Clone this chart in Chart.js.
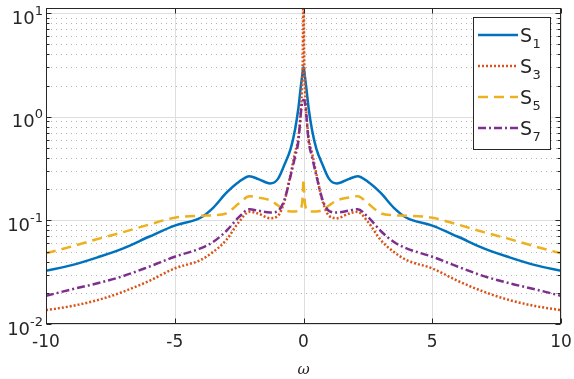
<!DOCTYPE html>
<html><head><meta charset="utf-8">
<script src="https://cdn.jsdelivr.net/npm/chart.js@4/dist/chart.umd.min.js"></script>
<style>html,body{margin:0;padding:0;background:#fff;overflow:hidden}#wrap{width:574px;height:379px;position:relative}</style>
</head><body><div id="wrap"><canvas id="c" width="574" height="379"></canvas></div>
<script>
// ---- data ----
const omega = [-10,-9,-8,-7,-6,-5,-4,-3.5,-3,-2.5,-2.1,-1.75,-1.3,-1,-0.75,-0.5,-0.33,-0.2,-0.1,-0.05,-0.02,0,0.02,0.05,0.1,0.2,0.33,0.5,0.75,1,1.3,1.75,2.1,2.5,3,3.5,4,5,6,7,8,9,10];
const S1 = [0.0327,0.037,0.044,0.0537,0.0695,0.089,0.106,0.133,0.184,0.236,0.267,0.25,0.227,0.25,0.34,0.49,0.75,1.2,2.0,2.5,2.85,3.0,2.85,2.5,2.0,1.2,0.75,0.49,0.34,0.25,0.227,0.25,0.267,0.236,0.184,0.133,0.106,0.089,0.0695,0.0537,0.044,0.037,0.0327];
const S3 = [0.0136,0.0149,0.017,0.0205,0.026,0.0344,0.0414,0.0498,0.0646,0.097,0.121,0.116,0.105,0.11,0.15,0.28,0.45,0.62,1.2,2.2,5.5,40,5.5,2.2,1.2,0.62,0.45,0.28,0.15,0.11,0.105,0.116,0.121,0.097,0.0646,0.0498,0.0414,0.0344,0.026,0.0205,0.017,0.0149,0.0136];
const S5 = [0.048,0.056,0.066,0.077,0.091,0.106,0.111,0.112,0.117,0.146,0.171,0.166,0.156,0.14,0.126,0.122,0.122,0.123,0.13,0.15,0.2,0.25,0.2,0.15,0.13,0.123,0.122,0.122,0.126,0.14,0.156,0.166,0.171,0.146,0.117,0.112,0.111,0.106,0.091,0.077,0.066,0.056,0.048];
const S7 = [0.0187,0.0216,0.0247,0.029,0.0357,0.0446,0.0537,0.0622,0.079,0.108,0.128,0.124,0.119,0.123,0.155,0.27,0.41,0.58,1.1,1.38,1.44,1.45,1.44,1.38,1.1,0.58,0.41,0.27,0.155,0.123,0.119,0.124,0.128,0.108,0.079,0.0622,0.0537,0.0446,0.0357,0.029,0.0247,0.0216,0.0187];
const seriesLabels = ['S_1','S_3','S_5','S_7'];
const xTickValues = [-10,-5,0,5,10];
const yDecades = [0.01,0.1,1,10];
const yExponents = ['-2','-1','0','1'];
const xTitle = 'ω';

// ---- styles ----
const INK = '#262626';
const FONT = 'DejaVu Sans';
const styles = [
  {color:'#0072BD', dash:[]},
  {color:'#D95319', dash:[2,2]},
  {color:'#EDB120', dash:[10,6]},
  {color:'#7E2F8E', dash:[8,3,2,3]}
];
const seriesData = [S1,S3,S5,S7];
const datasets = seriesData.map((arr,k)=>({
  label: seriesLabels[k],
  data: omega.map((x,i)=>({x:x, y:arr[i]})),
  borderColor: styles[k].color,
  backgroundColor: styles[k].color,
  borderWidth: 2.5,
  borderDash: styles[k].dash,
  borderCapStyle: 'butt',
  pointRadius: 0,
  fill: false,
  cubicInterpolationMode: 'monotone',
  order: 3-k
}));

const matlabAxes = {
  id: 'matlabAxes',
  beforeDatasetsDraw(chart){
    const ctx = chart.ctx, a = chart.chartArea;
    const xs = chart.scales.x, ys = chart.scales.y;
    ctx.save();
    ctx.strokeStyle = 'rgba(38,38,38,0.35)';
    ctx.lineWidth = 1;
    ctx.setLineDash([1,4]);
    for (const d of yDecades){
      for (let k=2;k<=9;k++){
        const v = k*d;
        if (v > ys.max) continue;
        const y = Math.round(ys.getPixelForValue(v))+0.5;
        ctx.beginPath(); ctx.moveTo(a.left, y); ctx.lineTo(a.right, y); ctx.stroke();
      }
    }
    ctx.setLineDash([]);
    ctx.strokeStyle = '#dedede';
    for (const d of yDecades){
      const y = Math.round(ys.getPixelForValue(d))+0.5;
      ctx.beginPath(); ctx.moveTo(a.left, y); ctx.lineTo(a.right, y); ctx.stroke();
    }
    for (const v of xTickValues){
      const x = Math.round(xs.getPixelForValue(v))+0.5;
      ctx.beginPath(); ctx.moveTo(x, a.top); ctx.lineTo(x, a.bottom); ctx.stroke();
    }
    ctx.restore();
  },
  afterDatasetsDraw(chart){
    const ctx = chart.ctx, a = chart.chartArea;
    const xs = chart.scales.x, ys = chart.scales.y;
    ctx.save();
    ctx.strokeStyle = INK; ctx.lineWidth = 1; ctx.setLineDash([]);
    const L = Math.round(a.left)+0.5, R = Math.round(a.right)-0.5, T = Math.round(a.top)+0.5, B = Math.round(a.bottom)-0.5;
    ctx.strokeRect(L, T, R-L, B-T);
    ctx.beginPath();
    for (const v of xTickValues){
      const x = Math.round(xs.getPixelForValue(v))+0.5;
      ctx.moveTo(x,B); ctx.lineTo(x,B-5);
      ctx.moveTo(x,T); ctx.lineTo(x,T+5);
    }
    for (const d of yDecades){
      for (let k=1;k<=9;k++){
        const v = k*d; if (v > ys.max) continue;
        const len = k===1 ? 5 : 3;
        const y = Math.round(ys.getPixelForValue(v))+0.5;
        ctx.moveTo(L,y); ctx.lineTo(L+len,y);
        ctx.moveTo(R,y); ctx.lineTo(R-len,y);
      }
    }
    ctx.stroke();
    // y tick labels 10^n
    ctx.fillStyle = INK;
    ctx.textBaseline = 'alphabetic';
    yDecades.forEach((d,i)=>{
      const y = ys.getPixelForValue(d);
      const right = a.left - 3;
      ctx.font = '13px "'+FONT+'"';
      const we = ctx.measureText(yExponents[i]).width;
      ctx.textAlign = 'left';
      ctx.fillText(yExponents[i], right - we, y + 1.5);
      ctx.font = '18px "'+FONT+'"';
      ctx.textAlign = 'right';
      ctx.fillText('10', right - we, y + 10.5);
    });
    // legend
    const lx0 = 473.5, ly0 = 17.5, lx1 = 550.5, ly1 = 149.5;
    ctx.fillStyle = '#fff';
    ctx.fillRect(lx0, ly0, lx1-lx0, ly1-ly0);
    ctx.strokeStyle = INK; ctx.lineWidth = 1;
    ctx.strokeRect(lx0, ly0, lx1-lx0, ly1-ly0);
    chart.data.datasets.forEach((ds,i)=>{
      const ly = 35 + i*31;
      ctx.save();
      ctx.strokeStyle = ds.borderColor; ctx.lineWidth = ds.borderWidth;
      ctx.setLineDash(ds.borderDash || []); ctx.lineCap = 'butt';
      ctx.beginPath(); ctx.moveTo(478, ly); ctx.lineTo(518, ly); ctx.stroke();
      ctx.restore();
      const parts = ds.label.split('_');
      ctx.fillStyle = INK; ctx.textAlign = 'left';
      ctx.font = '19px "'+FONT+'"';
      ctx.fillText(parts[0], 520, ly + 7);
      const w = ctx.measureText(parts[0]).width;
      ctx.font = '13px "'+FONT+'"';
      ctx.fillText(parts[1], 520 + w + 0.5, ly + 12.5);
    });
    ctx.restore();
  }
};

new Chart(document.getElementById('c'), {
  type: 'line',
  data: { datasets },
  options: {
    responsive: false, animation: false, devicePixelRatio: 1,
    layout: { padding: { top: 8, right: 13, left: 0, bottom: 0 } },
    plugins: { legend: { display: false }, tooltip: { enabled: false } },
    scales: {
      x: {
        type: 'linear', min: -10, max: 10,
        grid: { display: false, drawTicks: false },
        border: { display: false },
        ticks: { stepSize: 5, autoSkip: false, maxRotation: 0, padding: 8, color: INK, font: { family: FONT, size: 17 } },
        title: { display: true, text: xTitle, color: INK, font: { family: 'DejaVu Serif', style: 'italic', size: 15 }, padding: { top: 2, bottom: 0 } },
        afterFit: s => { s.height = 55; s.paddingLeft = 0; s.paddingRight = 0; }
      },
      y: {
        type: 'logarithmic', min: 0.01, max: 11.2,
        grid: { display: false, drawTicks: false },
        border: { display: false },
        ticks: { display: false },
        afterFit: s => { s.width = 46; s.paddingTop = 0; s.paddingBottom = 0; }
      }
    }
  },
  plugins: [matlabAxes]
});
</script></body></html>
